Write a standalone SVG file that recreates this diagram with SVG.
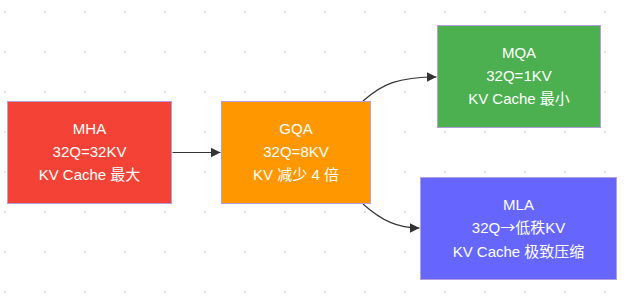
<svg xmlns="http://www.w3.org/2000/svg" width="629" height="308" viewBox="0 0 629 308">
<defs>
<pattern id="dots" x="0" y="0" width="40" height="40" patternUnits="userSpaceOnUse">
<rect x="4" y="11" width="2" height="2" fill="#e3e3e3"/>
</pattern>
<marker id="arrow" viewBox="0 0 10 10" refX="10" refY="5" markerWidth="10" markerHeight="10" markerUnits="userSpaceOnUse" orient="auto">
<path d="M0,0 L10,5 L0,10 z" fill="#333333"/>
</marker>
<style>
.box { stroke: #b39ddb; stroke-width: 1; }
.lbl { font-family: "Liberation Sans", "Noto Sans CJK SC", sans-serif; font-size: 15px; fill: #ffffff; text-anchor: middle; }
.cjk { font-family: "Noto Sans CJK SC", sans-serif; }
.edge { fill: none; stroke: #333333; stroke-width: 1.1; marker-end: url(#arrow); }
</style>
</defs>
<rect width="629" height="308" fill="#ffffff"/>
<rect width="629" height="308" fill="url(#dots)"/>
<g id="connectors">
<path class="edge" d="M172.5,152.5 L220.5,152.5"/>
<path class="edge" d="M363,101 C382,84 398,77 436.5,77"/>
<path class="edge" d="M363,204 C382,221 398,228 419.5,228"/>
</g>
<g id="MHA">
<rect class="box" x="7.5" y="101.5" width="164" height="102" fill="#f44336"/>
<text class="lbl" x="89.5" y="134">MHA</text>
<text class="lbl" x="89.5" y="157">32Q=32KV</text>
<text class="lbl" x="89.5" y="180">KV Cache 最大</text>
</g>
<g id="GQA">
<rect class="box" x="221.5" y="101.5" width="149" height="102" fill="#ff9800"/>
<text class="lbl" x="296" y="134">GQA</text>
<text class="lbl" x="296" y="157">32Q=8KV</text>
<text class="lbl" x="296" y="180">KV 减少 4 倍</text>
</g>
<g id="MQA">
<rect class="box" x="437.5" y="25.5" width="163" height="102" fill="#4caf50"/>
<text class="lbl" x="519" y="58">MQA</text>
<text class="lbl" x="519" y="81">32Q=1KV</text>
<text class="lbl" x="519" y="104">KV Cache 最小</text>
</g>
<g id="MLA">
<rect class="box" x="420.5" y="177.5" width="196" height="102" fill="#6666ff"/>
<text class="lbl" x="518.5" y="210">MLA</text>
<text class="lbl" x="518.5" y="233">32Q<tspan class="cjk">→</tspan>低秩KV</text>
<text class="lbl" x="518.5" y="257">KV Cache 极致压缩</text>
</g>
</svg>
